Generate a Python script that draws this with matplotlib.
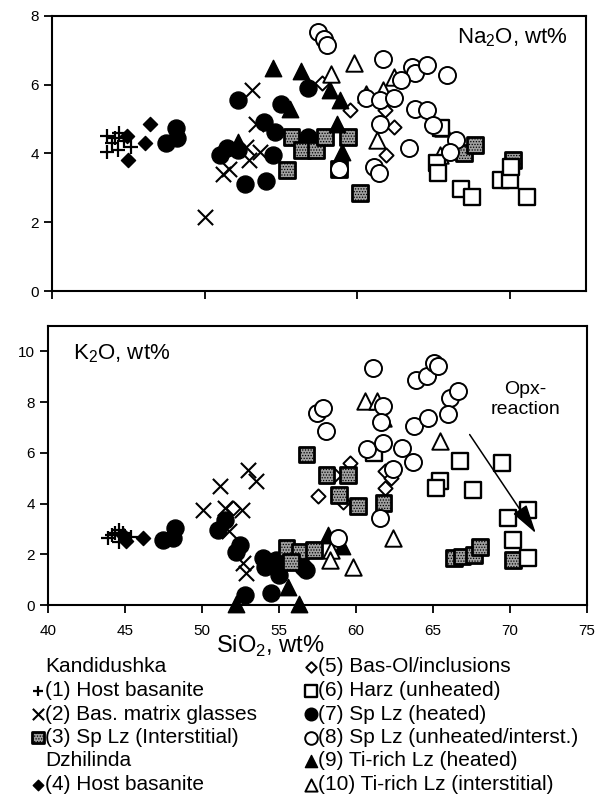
import matplotlib
matplotlib.use("Agg")
from matplotlib import pyplot as plt

plt.rcParams['font.family'] = ['Liberation Sans', 'DejaVu Sans']
plt.rcParams['mathtext.fontset'] = 'custom'
plt.rcParams['mathtext.rm'] = 'Liberation Sans'
plt.rcParams['hatch.linewidth'] = 0.6

# Legend labels, in group order
labels = [
    "(1) Host basanite", "(2) Bas. matrix glasses", "(3) Sp Lz (Interstitial)",
    "(4) Host basanite", "(5) Bas-Ol/inclusions", "(6) Harz (unheated)",
    "(7) Sp Lz (heated)", "(8) Sp Lz (unheated/interst.)",
    "(9) Ti-rich Lz (heated)", "(10) Ti-rich Lz (interstitial)",
]

# (SiO2, Na2O) pairs, wt%
na_1 = [(43.6, 4.5), (43.6, 4.05), (43.9, 4.3), (44.1, 4.45), (44.35, 4.1),
        (44.4, 4.6), (45.2, 4.2), (44.7, 4.35)]
na_2 = [(53.1, 5.84), (53.4, 4.87), (53.6, 4.05), (52.9, 3.8), (51.2, 3.4),
        (51.6, 3.55), (50.0, 2.14), (52.7, 4.2)]
na_3 = [(55.7, 4.49), (56.4, 4.1), (57.3, 4.1), (57.9, 4.49), (59.4, 4.49),
        (55.4, 3.52), (58.8, 3.55), (60.2, 2.84), (67.0, 4.02), (67.7, 4.24),
        (70.2, 3.8)]
na_4 = [(45.0, 3.8), (46.1, 4.3), (46.4, 4.85), (44.9, 4.5)]
na_5 = [(57.7, 6.04), (59.5, 5.26), (61.8, 5.26), (62.4, 4.78), (61.9, 3.95)]
na_6 = [(65.2, 3.71), (65.3, 3.42), (66.8, 2.98), (67.5, 2.74), (69.4, 3.23),
        (70.0, 3.23), (70.1, 3.61), (71.1, 2.74), (65.5, 4.75)]
na_7 = [(47.5, 4.29), (48.1, 4.73), (48.2, 4.44), (52.2, 5.55), (55.0, 5.43),
        (51.0, 3.95), (51.45, 4.15), (52.2, 4.1), (53.9, 4.9), (54.6, 4.62),
        (54.5, 3.95), (52.65, 3.1), (54.0, 3.2), (56.8, 5.89), (56.8, 4.49)]
na_8 = [(57.4, 7.54), (57.8, 7.34), (58.0, 7.15), (61.7, 6.76), (63.6, 6.52),
        (63.8, 6.33), (64.6, 6.57), (65.9, 6.28), (62.9, 6.13), (60.6, 5.6),
        (61.5, 5.55), (62.4, 5.6), (63.8, 5.28), (64.6, 5.26), (61.5, 4.87),
        (65.0, 4.83), (66.5, 4.39), (66.1, 4.05), (63.4, 4.15), (61.1, 3.61),
        (61.4, 3.42), (58.8, 3.55)]
na_9 = [(54.5, 6.47), (56.3, 6.4), (52.2, 4.34), (55.6, 5.3), (58.2, 5.85),
        (58.9, 5.55), (58.7, 4.87), (59.0, 4.05)]
na_10 = [(59.8, 6.63), (58.3, 6.3), (62.4, 6.23), (61.7, 5.84), (60.6, 5.74),
         (61.3, 4.39), (65.4, 3.95), (65.6, 4.73)]

# (SiO2, K2O) pairs, wt%
k_1 = [(43.9, 2.64), (44.35, 2.83), (44.6, 2.5), (44.9, 2.85), (45.4, 2.7),
       (44.2, 2.75), (44.6, 2.95)]
k_2 = [(50.1, 3.75), (51.2, 4.68), (51.5, 3.82), (52.6, 3.75), (53.0, 5.34),
       (53.55, 4.87), (51.8, 2.9), (52.7, 1.65), (52.9, 1.25)]
k_3 = [(56.8, 5.93), (58.1, 5.14), (59.5, 5.14), (58.9, 4.35), (60.15, 3.89),
       (61.8, 4.02), (55.5, 2.24), (56.4, 2.11), (57.3, 2.17), (55.8, 1.71),
       (66.4, 1.84), (66.9, 1.91), (67.7, 1.98), (68.05, 2.28), (70.2, 1.78)]
k_4 = [(45.1, 2.52), (46.2, 2.64), (44.9, 2.77)]
k_5 = [(52.0, 3.82), (59.6, 5.6), (58.6, 5.14), (57.55, 4.28), (59.2, 4.08),
       (61.9, 5.27), (62.3, 5.0), (61.9, 4.61)]
k_6 = [(66.75, 5.66), (69.5, 5.6), (65.45, 4.87), (65.2, 4.61), (67.6, 4.55),
       (71.2, 3.75), (69.9, 3.43), (70.2, 2.57), (71.2, 1.84), (61.2, 6.0)]
k_7 = [(47.5, 2.57), (48.25, 3.03), (48.1, 2.64), (51.06, 2.96), (51.5, 3.36),
       (52.25, 2.1), (52.5, 2.37), (54.0, 1.84), (54.1, 1.51), (55.0, 1.19),
       (54.5, 0.46), (52.8, 0.38), (54.85, 1.78), (56.8, 1.38), (56.6, 1.51)]
k_8 = [(61.1, 9.34), (63.9, 8.86), (64.6, 9.02), (65.1, 9.55), (65.35, 9.42),
       (66.1, 8.17), (66.65, 8.43), (66.0, 7.51), (63.8, 7.05), (64.7, 7.38),
       (57.5, 7.58), (57.85, 7.77), (58.1, 6.85), (60.7, 6.15), (61.8, 6.39),
       (63.0, 6.19), (63.7, 5.62), (62.4, 5.37), (61.6, 3.43), (61.8, 7.84),
       (61.65, 7.2), (58.85, 2.64)]
k_9 = [(52.25, 0.05), (55.6, 0.72), (56.3, 0.05), (58.2, 2.77), (59.1, 2.33)]
k_10 = [(60.6, 8.04), (61.35, 8.04), (61.8, 7.38), (65.45, 6.45), (62.4, 2.64),
        (58.4, 2.17), (58.35, 1.78), (59.8, 1.48)]

# Opx-reaction arrow, tail and head (SiO2, K2O)
arrow_tail = (67.4, 6.72)
arrow_head = (71.7, 2.83)

STYLES = {
    1: dict(marker='+', s=100, c='black', linewidths=1.6),
    2: dict(marker='x', s=120, c='black', linewidths=1.5),
    3: dict(marker='s', s=130, facecolors='#a0a0a0', edgecolors='black',
            linewidths=2.0, hatch='......'),
    4: dict(marker='D', s=52, facecolors='black', edgecolors='black'),
    5: dict(marker='D', s=52, facecolors='white', edgecolors='black', linewidths=1.4),
    6: dict(marker='s', s=130, facecolors='white', edgecolors='black', linewidths=1.7),
    7: dict(marker='o', s=150, facecolors='black', edgecolors='black'),
    8: dict(marker='o', s=150, facecolors='white', edgecolors='black', linewidths=1.4),
    9: dict(marker='^', s=140, facecolors='black', edgecolors='black'),
    10: dict(marker='^', s=140, facecolors='white', edgecolors='black', linewidths=1.4),
}
DRAW_ORDER = [1, 4, 5, 7, 3, 9, 10, 6, 8, 2]


def scatter_groups(ax, groups):
    for g in DRAW_ORDER:
        xs, ys = zip(*groups[g - 1])
        ax.scatter(xs, ys, clip_on=False, **STYLES[g])


def format_axis(ax, ymax, yticks):
    ax.set_xlim(40, 75)
    ax.set_ylim(0, ymax)
    ax.set_yticks(yticks)
    for side in ax.spines.values():
        side.set_linewidth(1.5)
    ax.tick_params(direction='out', length=6, width=1.3, labelsize=11)


def draw_legend(fig):
    lax = fig.add_axes([0, 0, 1, 1])
    lax.set_xlim(0, 598)
    lax.set_ylim(794, 0)
    lax.set_axis_off()
    lax.patch.set_visible(False)
    rows = [667, 690.5, 714, 737.5, 761, 784.5]
    left = [None, 1, 2, 3, None, 4]
    heads = {0: "Kandidushka", 4: "Dzhilinda"}
    for i, g in enumerate(left):
        if g is None:
            lax.text(45, rows[i], heads[i], fontsize=15, va='center')
            continue
        st = dict(STYLES[g])
        st['s'] = st['s'] * 0.55
        lax.scatter([38], [rows[i]], clip_on=False, **st)
        lax.text(45, rows[i], labels[g - 1], fontsize=15, va='center')
    for i, g in enumerate(range(5, 11)):
        st = dict(STYLES[g])
        st['s'] = st['s'] * 0.55
        lax.scatter([311], [rows[i]], clip_on=False, **st)
        lax.text(318, rows[i], labels[g - 1], fontsize=15, va='center')


def main():
    fig = plt.figure(figsize=(5.98, 7.94), dpi=100)

    # Na2O panel
    ax1 = fig.add_axes([0.087, 0.6335, 0.893, 0.3465])
    scatter_groups(ax1, [na_1, na_2, na_3, na_4, na_5, na_6, na_7, na_8, na_9, na_10])
    format_axis(ax1, 8, [0, 2, 4, 6, 8])
    ax1.set_xticks([40, 50, 60, 70])
    ax1.set_xticklabels([])
    ax1.text(0.965, 0.92, "Na$_\\mathrm{2}$O, wt%", transform=ax1.transAxes,
             ha='right', va='center', fontsize=16)

    # K2O panel
    ax2 = fig.add_axes([0.080, 0.238, 0.901, 0.3515])
    scatter_groups(ax2, [k_1, k_2, k_3, k_4, k_5, k_6, k_7, k_8, k_9, k_10])
    format_axis(ax2, 11, [0, 2, 4, 6, 8, 10])
    ax2.set_xticks(range(40, 80, 5))
    ax2.tick_params(axis='x', pad=8)
    ax2.text(0.046, 0.90, "K$_\\mathrm{2}$O, wt%", transform=ax2.transAxes,
             ha='left', va='center', fontsize=16)
    ax2.annotate("", xy=arrow_head, xytext=arrow_tail,
                 arrowprops=dict(arrowstyle='-|>,head_length=0.9,head_width=0.25',
                                 color='black', lw=1.1, mutation_scale=20,
                                 shrinkA=0, shrinkB=0))
    ax2.text(71.0, 8.1, "Opx-\nreaction", ha='center', va='center',
             fontsize=14, linespacing=1.25)

    fig.text(270 / 598, 1 - 646 / 794, "SiO$_\\mathrm{2}$, wt%", ha='center',
             va='center', fontsize=17)

    draw_legend(fig)
    fig.savefig("out.png", dpi=100)


if __name__ == "__main__":
    main()
